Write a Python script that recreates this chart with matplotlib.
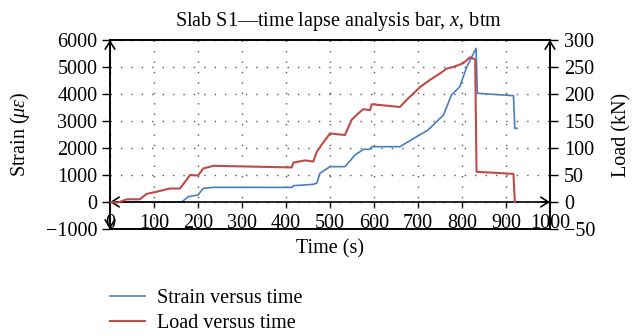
import matplotlib
matplotlib.use("Agg")
import matplotlib.pyplot as plt

plt.rcParams['font.family'] = ['Liberation Serif', 'DejaVu Serif']
plt.rcParams['mathtext.fontset'] = 'custom'
plt.rcParams['mathtext.rm'] = 'Liberation Serif'
plt.rcParams['mathtext.it'] = 'Liberation Serif:italic'

# ---- data ----
strain_time = [0, 163, 178, 200, 212, 235, 413, 417, 462, 470, 477, 500, 534, 557, 576,
               591, 595, 659, 697, 723, 750, 758, 776, 795, 811, 832, 835, 917, 920, 925]
strain_vals = [0, 0, 197, 260, 506, 543, 540, 605, 654, 700, 1062, 1309, 1309, 1741, 1951,
               1951, 2049, 2049, 2420, 2667, 3099, 3222, 3963, 4272, 5012, 5691, 4025, 3938, 2728, 2728]

load_time = [0, 18, 38, 68, 83, 106, 136, 159, 174, 182, 200, 212, 235, 413, 417, 443,
             462, 470, 481, 500, 534, 549, 564, 576, 591, 595, 659, 674, 705, 727, 750,
             765, 780, 803, 818, 830, 833, 917, 920]
load_vals = [0, -1, 5, 5, 15, 19, 25, 25, 41, 50, 49, 62, 67, 64, 73, 77,
             75, 93, 106, 127, 124, 152, 164, 172, 170, 181, 176, 189, 213, 226, 238,
             247, 250, 257, 268, 264, 56, 52, 0]

x_ticks = list(range(0, 1001, 100))
strain_ticks = list(range(-1000, 6001, 1000))
load_ticks = list(range(-50, 301, 50))

blue = '#4a7ebb'
red = '#be4b48'
fs = 14.5

fig = plt.figure(figsize=(6.34, 3.36), dpi=100)
ax = fig.add_axes([110/634, 1-229/336, 440/634, 189/336])
ax2 = ax.twinx()

ax.plot(strain_time, strain_vals, color=blue, lw=1.2, zorder=3)
ax2.plot(load_time, load_vals, color=red, lw=1.5, zorder=3)

ax.set_xlim(0, 1000)
ax.set_ylim(-1000, 6000)
ax2.set_ylim(-50, 300)

ax.set_xticks(x_ticks)
ax.set_yticks(strain_ticks)
ax2.set_yticks(load_ticks)
ax.set_yticklabels([str(v).replace('-', '\u2212') for v in strain_ticks])
ax2.set_yticklabels([str(v).replace('-', '\u2212') for v in load_ticks])

ax.tick_params(axis='x', length=0, pad=-11, labelsize=fs)
ax.tick_params(axis='y', direction='out', length=6, width=1, pad=3, labelsize=fs)
ax2.tick_params(axis='y', direction='out', length=6, width=1, pad=4, labelsize=fs)
for lbl in ax.get_xticklabels():
    lbl.set_zorder(5)

# dotted grid
ax.grid(True, color='#555555', linestyle=(0, (1, 6.5)), linewidth=1.0)
ax.set_axisbelow(True)

for a in (ax, ax2):
    for s in a.spines.values():
        s.set_linewidth(1.2)
        s.set_color('black')

# zero axis with ticks
ax.axhline(0, color='black', lw=1.2, zorder=4)
ax.vlines(x_ticks[1:-1], -190, 0, color='black', lw=1.0, zorder=4, clip_on=False)

def arrow(xy, xytext):
    ax.annotate('', xy=xy, xytext=xytext, xycoords='data', textcoords='data',
                arrowprops=dict(arrowstyle='->,head_length=0.55,head_width=0.35',
                                lw=1.2, color='black', shrinkA=0, shrinkB=0),
                annotation_clip=False, zorder=6)

arrow((0, 6000), (0, 5700))
arrow((1000, 6000), (1000, 5700))
arrow((0, 0), (20, 0))
arrow((1000, 0), (980, 0))
arrow((0, -1000), (0, -700))

ax.set_title(r'Slab S1—time lapse analysis bar, $x$, btm', fontsize=fs, pad=10, x=0.52)
ax.set_xlabel('Time (s)', fontsize=fs, labelpad=5)
ax.set_ylabel(r'Strain ($\mu\varepsilon$)', fontsize=fs, labelpad=10)
ax2.set_ylabel('Load (kN)', fontsize=fs, labelpad=12)

from matplotlib.lines import Line2D
handles = [Line2D([], [], color=blue, lw=1.2), Line2D([], [], color=red, lw=1.5)]
fig.legend(handles, ['Strain versus time', 'Load versus time'],
           loc='upper left', bbox_to_anchor=(108/634, 1-287/336), frameon=False,
           fontsize=fs, handlelength=1.75, handletextpad=0.6, labelspacing=0.28,
           borderaxespad=0, borderpad=0.1)

fig.savefig('out.png', dpi=100)
